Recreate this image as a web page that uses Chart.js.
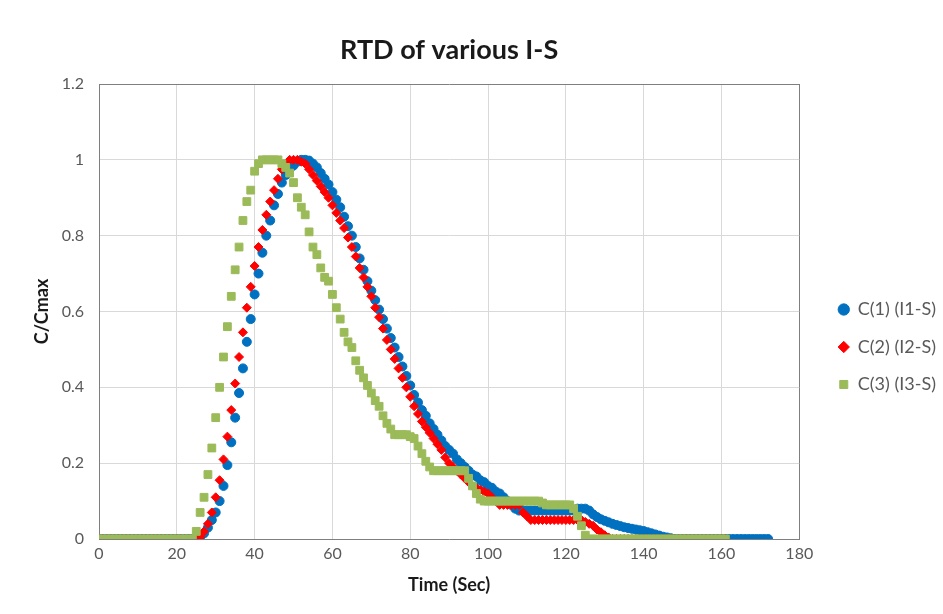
<!DOCTYPE html>
<html>
<head>
<meta charset="utf-8">
<script src="https://cdn.jsdelivr.net/npm/chart.js@4"></script>
<style>
  body { margin: 0; background: #fff; }
  #wrap { width: 943px; height: 614px; }
</style>
</head>
<body>
<div id="wrap"><canvas id="rtd" width="943" height="614"></canvas></div>
<script>
// C/Cmax readings, one per second starting at t = 0 s
const c1 = [
  0,0,0,0,0,0,0,0,0,0, 0,0,0,0,0,0,0,0,0,0, 0,0,0,0,0,0,
  0.005,0.015,0.03,0.05,0.07,0.10,0.14,0.195,0.255,0.32,
  0.385,0.45,0.52,0.58,0.645,0.70,0.755,0.80,0.84,0.88,
  0.91,0.94,0.96,0.975,0.985,0.995,1,1,0.998,0.99,
  0.98,0.965,0.95,0.935,0.915,0.895,0.875,0.85,0.825,0.80,
  0.77,0.74,0.71,0.68,0.655,0.63,0.605,0.58,0.555,0.53,
  0.505,0.48,0.455,0.43,0.405,0.38,0.36,0.34,0.325,0.305,
  0.29,0.275,0.26,0.245,0.235,0.225,0.21,0.2,0.19,0.18,
  0.17,0.165,0.155,0.15,0.14,0.135,0.125,0.12,0.11,0.1,
  0.09,0.08,0.075,0.075,0.075,0.075,0.075,0.075,0.075,0.075,
  0.075,0.075,0.075,0.075,0.075,0.075,0.075,0.08,0.08,0.08,
  0.075,0.065,0.058,0.052,0.048,0.044,0.04,0.037,0.034,0.031,
  0.029,0.027,0.025,0.023,0.021,0.018,0.015,0.012,0.009,0.006,
  0.004,0.002,
  0,0,0,0,0,0,0,0,0,0, 0,0,0,0,0,0,0,0,0,0, 0,0,0,0,0
];
const c2 = [
  0,0,0,0,0,0,0,0,0,0, 0,0,0,0,0,0,0,0,0,0, 0,0,0,0,0,0,
  0.005,0.02,0.04,0.07,0.11,0.155,0.21,0.27,0.34,0.41,
  0.48,0.545,0.61,0.665,0.72,0.77,0.815,0.855,0.89,0.92,
  0.95,0.975,0.99,1,1,1,0.995,0.99,0.975,0.96,
  0.945,0.93,0.915,0.9,0.88,0.86,0.84,0.82,0.795,0.77,
  0.745,0.715,0.69,0.665,0.64,0.61,0.585,0.555,0.525,0.5,
  0.475,0.45,0.425,0.4,0.375,0.35,0.33,0.31,0.295,0.28,
  0.265,0.25,0.235,0.215,0.2,0.19,0.18,0.17,0.16,0.15,
  0.14,0.135,0.13,0.125,0.12,0.11,0.1,0.09,0.09,0.09,
  0.09,0.09,0.09,0.07,0.06,0.05,0.05,0.05,0.05,0.05,
  0.05,0.05,0.05,0.05,0.05,0.05,0.05,0.05,0.05,0.045,
  0.04,0.035,0.025,0.018,0.01,0.004,
  0,0,0,0,0,0,0,0,0,0, 0,0,0,0,0,0,0,0,0,0, 0,0,0,0,0,0,0,0,0,0
];
const c3 = [
  0,0,0,0,0,0,0,0,0,0, 0,0,0,0,0,0,0,0,0,0, 0,0,0,0,0,
  0.02,0.07,0.11,0.17,0.24,
  0.32,0.40,0.48,0.56,0.64,0.71,0.77,0.84,0.89,0.92,
  0.97,0.99,1,1,1,1,1,0.99,0.98,0.965,
  0.94,0.9,0.875,0.855,0.81,0.77,0.75,0.715,0.69,0.68,
  0.645,0.61,0.58,0.545,0.52,0.505,0.47,0.445,0.425,0.405,
  0.385,0.365,0.35,0.325,0.305,0.29,0.275,0.275,0.275,0.275,
  0.27,0.265,0.245,0.225,0.205,0.19,0.18,0.18,0.18,0.18,
  0.18,0.18,0.18,0.18,0.18,0.16,0.14,0.12,0.105,0.1,
  0.1,0.1,0.1,0.1,0.1,0.1,0.1,0.1,0.1,0.1,
  0.1,0.1,0.1,0.1,0.095,0.09,0.09,0.09,0.09,0.09,
  0.09,0.09,0.08,0.06,0.035,0.01,
  0,0,0,0,0,0,0,0,0,0, 0,0,0,0,0,0,0,0,0,0, 0,0,0,0,0,0,0,0,0,0, 0,0,0,0,0,0
];
const seriesNames = ["C(1) (I1-S)", "C(2) (I2-S)", "C(3) (I3-S)"];
const xTicks = [0, 20, 40, 60, 80, 100, 120, 140, 160, 180];
const yTicks = [0, 0.2, 0.4, 0.6, 0.8, 1, 1.2];

const FONT = "Lato";
const DARK = "#7f7f7f";
const LIGHT = "#d9d9d9";

// sample index = time in seconds
function toPoints(values) {
    return values.map((v, i) => ({ x: i, y: v }));
}

// nudge the legend block to where the original sits
const legendNudge = {
    id: "legendNudge",
    afterLayout(chart) {
        const lg = chart.legend;
        lg.left += 20; lg.right += 20;
        lg.top += 40; lg.bottom += 40;
    }
};

const context = document.getElementById("rtd").getContext("2d");
new Chart(context, {
    type: "scatter",
    data: {
        datasets: [
            { label: seriesNames[0], data: toPoints(c1), order: 3,
              pointStyle: "circle", pointRadius: 4.5,
              backgroundColor: "#0070C0", borderColor: "#0070C0", pointBorderWidth: 1 },
            { label: seriesNames[1], data: toPoints(c2), order: 2,
              pointStyle: "rectRot", pointRadius: 4.5,
              backgroundColor: "#FF0000", borderColor: "#FF0000", pointBorderWidth: 1 },
            { label: seriesNames[2], data: toPoints(c3), order: 1,
              pointStyle: "rect", pointRadius: 5.5,
              backgroundColor: "#9BBB59", borderColor: "#9BBB59", pointBorderWidth: 1 }
        ]
    },
    options: {
        responsive: false,
        animation: false,
        layout: { padding: { left: 20, right: 17, top: 0, bottom: 0 } },
        plugins: {
            tooltip: { enabled: false },
            title: {
                display: true,
                text: "RTD of various I-S",
                fullSize: false,
                color: "#1a1a1a",
                font: { family: FONT, size: 27, weight: "bold" },
                padding: { top: 34, bottom: 17.6 }
            },
            legend: {
                position: "right",
                labels: {
                    usePointStyle: true,
                    boxWidth: 10,
                    boxHeight: 8,
                    padding: 19.5,
                    color: "#595959",
                    font: { family: FONT, size: 18 },
                    sort: (a, b) => a.datasetIndex - b.datasetIndex
                }
            }
        },
        scales: {
            x: {
                type: "linear",
                min: 0,
                max: 180,
                afterBuildTicks: axis => { axis.ticks = xTicks.map(v => ({ value: v })); },
                afterFit: axis => { axis.height = 75; },
                ticks: { color: "#595959", font: { family: FONT, size: 16 }, padding: 5, maxRotation: 0 },
                grid: { color: c => (c.tick && c.tick.value === 180 ? DARK : LIGHT), drawTicks: false },
                border: { color: DARK },
                title: {
                    display: true, text: "Time (Sec)", color: "#1a1a1a",
                    font: { family: FONT, size: 18, weight: "bold" },
                    padding: { top: 18, bottom: 18 }
                }
            },
            y: {
                min: 0,
                max: 1.2,
                afterBuildTicks: axis => { axis.ticks = yTicks.map(v => ({ value: v })); },
                afterFit: axis => { axis.width = 79; },
                ticks: {
                    color: "#595959", font: { family: FONT, size: 16 }, padding: 15,
                    callback: v => String(+v.toFixed(1))
                },
                grid: { color: c => (c.tick && c.tick.value === 1.2 ? DARK : LIGHT), drawTicks: false },
                border: { color: DARK },
                title: {
                    display: true, text: "C/Cmax", color: "#1a1a1a",
                    font: { family: FONT, size: 18, weight: "bold" },
                    padding: { top: 11, bottom: 11 }
                }
            }
        }
    },
    plugins: [legendNudge]
});
</script>
</body>
</html>
